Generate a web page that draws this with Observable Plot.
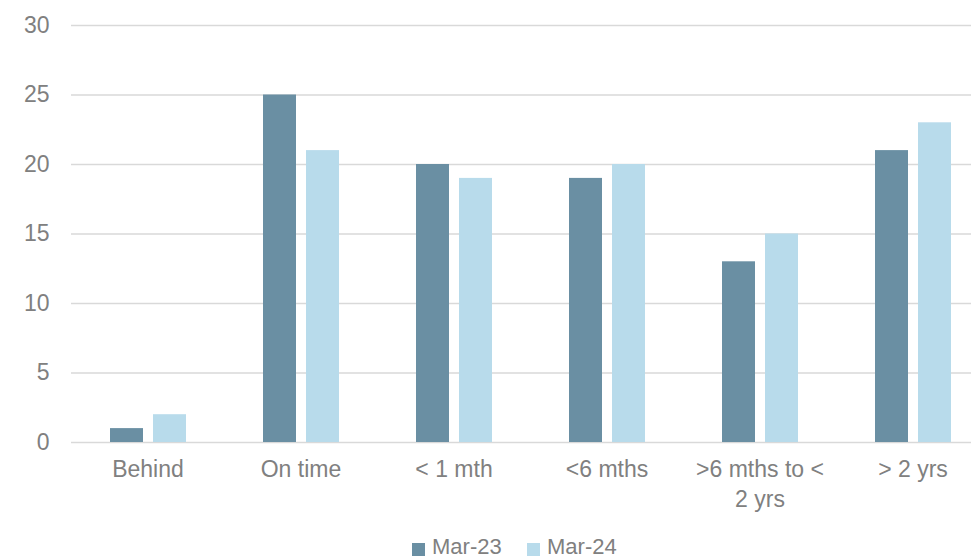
<!DOCTYPE html>
<html><head><meta charset="utf-8">
<script src="https://cdn.jsdelivr.net/npm/d3@7"></script>
<script src="https://cdn.jsdelivr.net/npm/@observablehq/plot@0.6"></script>
<style>
body{margin:0;background:#fff;font-family:"Liberation Sans",Arial,sans-serif;overflow:hidden}
#chart{width:971px;height:527px;overflow:hidden}
#legend{position:relative;width:971px;height:33px;font-size:22px;color:#808080}
.sw{position:absolute;width:13px;height:13px;top:16px}
.lt{position:absolute;top:8px;line-height:24px;white-space:nowrap}
</style>
</head><body>
<div id="chart"></div>
<div id="legend"></div>
<script>
const categories = ["Behind","On time","< 1 mth","<6 mths",">6 mths to <\n2 yrs","> 2 yrs"];
const series = ["Mar-23","Mar-24"];
const mar23 = [1,25,20,19,13,21];
const mar24 = [2,21,19,20,15,23];
const yTicks = [0,5,10,15,20,25,30];
const colors = ["#6a8fa3","#b8dbeb"];

const data = categories.flatMap((c,i)=>[
  {category:c, series:series[0], value:mar23[i]},
  {category:c, series:series[1], value:mar24[i]}
]);

const chart = Plot.plot({
  width:991, height:527,
  marginLeft:69, marginRight:0, marginTop:25, marginBottom:85,
  style:{fontFamily:'"Liberation Sans",Arial,sans-serif', fontSize:"23px", color:"#808080", background:"#fff", maxWidth:"none"},
  fx:{domain:categories, padding:0, label:null},
  x:{domain:series, paddingInner:0, paddingOuter:0.745, axis:null},
  y:{domain:[0,30], label:null},
  color:{domain:series, range:colors},
  marks:[
    Plot.gridY(yTicks, {stroke:"#d9d9d9", strokeOpacity:1, strokeWidth:1.3}),
    Plot.barY(data, {fx:"category", x:"series", y:"value", fill:"series", insetLeft:5, insetRight:5}),
    Plot.axisY(yTicks, {tickSize:0, tickPadding:22, fontSize:23, fill:"#808080", label:null}),
    Plot.axisFx({anchor:"bottom", tickSize:0, tickPadding:13, fontSize:23, fill:"#808080", lineHeight:1.3, label:null})
  ]
});
document.getElementById("chart").appendChild(chart);

const legend = document.getElementById("legend");
const legendX = [412, 527];
series.forEach((s,i)=>{
  const sw = document.createElement("span"); sw.className="sw";
  sw.style.background=colors[i]; sw.style.left=legendX[i]+"px";
  const t = document.createElement("span"); t.className="lt";
  t.textContent=s; t.style.left=(legendX[i]+20)+"px";
  legend.appendChild(sw); legend.appendChild(t);
});
</script>
</body></html>
